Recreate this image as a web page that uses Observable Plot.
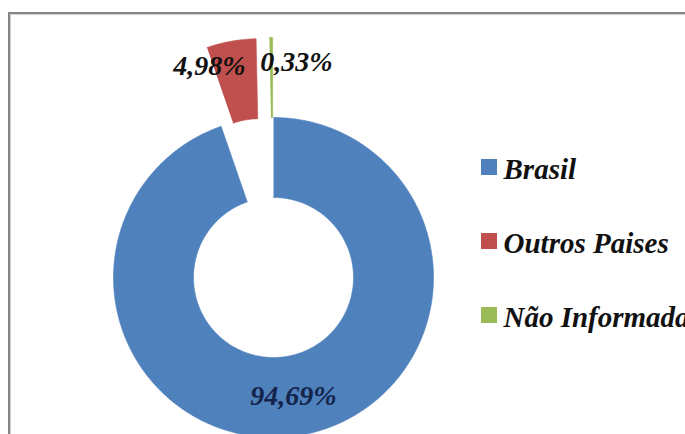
<!DOCTYPE html>
<html><head><meta charset="utf-8">
<script src="https://cdn.jsdelivr.net/npm/d3@7"></script>
<script src="https://cdn.jsdelivr.net/npm/@observablehq/plot@0.6"></script>
<style>
html,body{margin:0;padding:0;background:#fff;overflow:hidden;width:685px;height:434px}
#chart{position:absolute;left:0;top:0}
#frame{position:absolute;left:8px;top:12px;width:720px;height:460px;border-left:2px solid #858585;border-top:2px solid #858585;box-shadow:1px 1px 1px #d0d0d0 inset;pointer-events:none}
</style></head><body>
<div id="chart"></div><div id="frame"></div>
<script>
// ---- data ----
const categories = ["Brasil", "Outros Paises", "Não Informada"];
const values = [94.69, 4.98, 0.33];
const labels = ["94,69%", "4,98%", "0,33%"];
const colors = ["#4F81BD", "#C0504D", "#9BBB59"];

// ---- layout ----
const W = 685, H = 434;
const cx = 273, cy = 277, R = 160, R0 = 80, EXPLODE = 80;
const FONT = "Liberation Serif, DejaVu Serif, serif";

const data = categories.map((name, i) => ({name, value: values[i], label: labels[i], i}));
const arcs = d3.pie().sort(null).value(d => d.value)(data);

const pts = [];
const labelPts = [];
arcs.forEach((a, i) => {
  const e = i === 0 ? 0 : EXPLODE;
  const mid = (a.startAngle + a.endAngle) / 2;
  const ox = cx + e * Math.sin(mid), oy = cy - e * Math.cos(mid);
  const n = Math.max(2, Math.ceil((a.endAngle - a.startAngle) / (2 * Math.PI) * 360));
  for (let k = 0; k <= n; k++) {
    const t = a.startAngle + (a.endAngle - a.startAngle) * k / n;
    pts.push({name: a.data.name, x: ox + R * Math.sin(t), y: oy - R * Math.cos(t)});
  }
  for (let k = n; k >= 0; k--) {
    const t = a.startAngle + (a.endAngle - a.startAngle) * k / n;
    pts.push({name: a.data.name, x: ox + R0 * Math.sin(t), y: oy - R0 * Math.cos(t)});
  }
  const lr = i === 0 ? (R + R0) / 2 : R + e - 25;
  labelPts.push({...a.data, x: cx + lr * Math.sin(mid), y: cy - lr * Math.cos(mid)});
});

const legend = data.map(d => ({...d, x1: 481, x2: 497, y1: 159 + d.i * 74, y2: 175 + d.i * 74, ty: 169 + d.i * 74}));

const textStyle = {fontSize: 28, fontWeight: "bold", fontStyle: "italic"};

const chart = Plot.plot({
  width: W, height: H, margin: 0,
  x: {domain: [0, W], range: [0, W], axis: null},
  y: {domain: [0, H], range: [0, H], axis: null},
  color: {domain: categories, range: colors},
  style: {background: "transparent", overflow: "hidden", fontFamily: FONT},
  marks: [
    Plot.line(pts, {x: "x", y: "y", z: "name", fill: "name", stroke: "name", strokeWidth: 0.6, curve: "linear"}),
    Plot.text(labelPts.filter(d => d.i === 0), {x: "x", y: "y", text: "label", fill: "#14244a", textAnchor: "middle", ...textStyle}),
    Plot.text(labelPts.filter(d => d.i === 1), {x: "x", y: "y", text: "label", fill: "#111", textAnchor: "end", dx: 10, ...textStyle}),
    Plot.text(labelPts.filter(d => d.i === 2), {x: "x", y: "y", text: "label", fill: "#111", textAnchor: "start", dx: -11, ...textStyle}),
    Plot.rect(legend, {x1: "x1", x2: "x2", y1: "y1", y2: "y2", fill: "name"}),
    Plot.text(legend, {x: "x2", y: "ty", dx: 6, text: "name", fill: "#111", textAnchor: "start", ...textStyle, fontSize: 29})
  ]
});
chart.querySelectorAll("text, g").forEach(el => el.style.fontFamily = FONT);
document.getElementById("chart").appendChild(chart);
</script>
</body></html>
